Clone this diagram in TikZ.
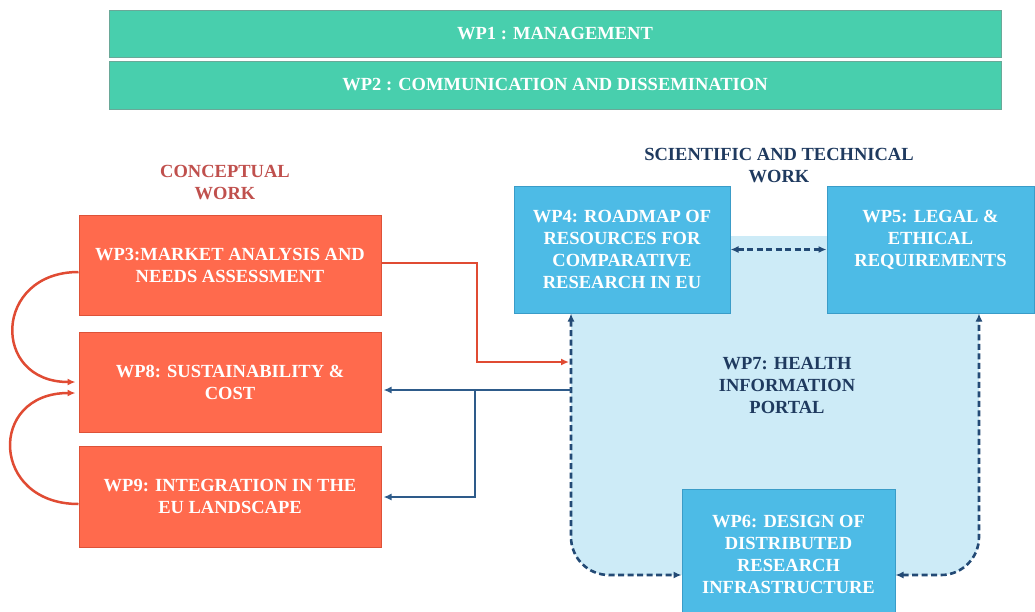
\documentclass[tikz,border=0pt]{standalone}
\usepackage{fontspec}
\setmainfont{Liberation Serif}
\usetikzlibrary{arrows.meta}
\definecolor{teal1}{HTML}{48CFAD}
\definecolor{tealb}{HTML}{6AA898}
\definecolor{redbox}{HTML}{FF6A4D}
\definecolor{redb}{HTML}{DD5238}
\definecolor{bluebox}{HTML}{4DBBE6}
\definecolor{blueb}{HTML}{3A9CC8}
\definecolor{light7}{HTML}{CDEBF7}
\definecolor{navy}{HTML}{1F3A5F}
\definecolor{dashc}{HTML}{234A75}
\definecolor{bluec}{HTML}{2E5B8A}
\definecolor{redc}{HTML}{E04B33}
\definecolor{concept}{HTML}{C0504D}
\begin{document}
\begin{tikzpicture}[x=1pt,y=-1pt,
  txt/.style={font=\fontsize{18.5}{22}\selectfont\bfseries, align=center, inner sep=0pt},
  tealbox/.style={txt, fill=teal1, draw=tealb, line width=1pt, text=white, minimum width=892pt},
  redbx/.style={txt, fill=redbox, draw=redb, line width=1pt, text=white, minimum width=302pt, minimum height=100pt},
  bluebx/.style={txt, fill=bluebox, draw=blueb, line width=1pt, text=white},
  dsh/.style={draw=dashc, line width=2.6pt, dash pattern=on 6pt off 3.5pt, {Latex[length=8pt,width=7pt]}-{Latex[length=8pt,width=7pt]}},
  redarr/.style={draw=redc, line width=2.5pt, -{Latex[length=8pt,width=7pt]}},
  bluearr/.style={draw=bluec, line width=2.5pt, -{Latex[length=8pt,width=7pt]}},
  title/.style={font=\fontsize{18.5}{22}\selectfont\bfseries, align=center, inner sep=0pt}
]
\useasboundingbox (0,0) rectangle (1035,611);
\fill[white] (0,0) rectangle (1035,611);

% WP7 region
\fill[light7] (571,236) -- (979,236) -- (979,537) arc[start angle=0,end angle=90,radius=38] -- (609,575) arc[start angle=90,end angle=180,radius=38] -- cycle;

% top bars
\node[tealbox, minimum height=47pt] (wp1) at (555,33.5) {WP1 : MANAGEMENT};
\node[tealbox, minimum height=48pt] (wp2) at (555,85) {WP2 : COMMUNICATION AND DISSEMINATION};

% titles
\node[title, text=concept] (tconc) at (225,182.5) {CONCEPTUAL\\WORK};
\node[title, text=navy] (tsci) at (779,166) {SCIENTIFIC AND TECHNICAL\\WORK};

% red boxes
\node[redbx] (wp3) at (230,265) {WP3:MARKET ANALYSIS AND\\NEEDS ASSESSMENT};
\node[redbx] (wp8) at (230,382) {WP8: SUSTAINABILITY \&\\COST};
\node[redbx, minimum height=101pt] (wp9) at (230,496.5) {WP9: INTEGRATION IN THE\\EU LANDSCAPE};

% blue boxes
\node[bluebx, minimum width=216pt, minimum height=127pt] (wp4) at (622,249.5) {WP4: ROADMAP OF\\RESOURCES FOR\\COMPARATIVE\\RESEARCH IN EU};
\node[bluebx, minimum width=207pt, minimum height=127pt] (wp5) at (930.5,249.5) {WP5: LEGAL \&\\ETHICAL\\REQUIREMENTS\\\mbox{}};
\node[bluebx, minimum width=213pt, minimum height=130pt] (wp6) at (788.5,554) {WP6: DESIGN OF\\DISTRIBUTED\\RESEARCH\\INFRASTRUCTURE};

% WP7 text
\node[title, text=navy] (wp7) at (787,385) {WP7: HEALTH\\INFORMATION\\PORTAL};

% dashed connectors
\draw[dsh] (wp4.east) -- (wp5.west);
\coordinate (l1) at (571,537);
\coordinate (r1) at (979,537);
\draw[dsh] (wp4.south -| l1) -- (l1) arc[start angle=180,end angle=90,radius=38] -- (wp6.west |- 0,575);
\draw[dsh] (wp6.east |- 0,575) -- (941,575) arc[start angle=90,end angle=0,radius=38] -- (wp5.south -| r1);

% red connector
\coordinate (rc1) at (477,263);
\coordinate (rc2) at (477,362);
\coordinate (rc3) at (569,362);
\draw[redarr] (wp3.east |- rc1) -- (rc1) -- (rc2) -- (rc3);

% blue connectors
\coordinate (b0) at (571,390);
\coordinate (bj) at (475,390);
\coordinate (bk) at (475,497);
\draw[bluearr] (b0) -- ([xshift=2pt]b0 -| wp8.east);
\draw[bluearr] (bj) -- (bk) -- ([xshift=2pt]bk -| wp9.east);

% left curved arrows
\draw[redarr] ([yshift=-7pt]wp3.west) .. controls +(-85,0) and +(-85,0) .. ([xshift=-3pt]wp8.west);
\draw[redarr] ([yshift=-7.5pt]wp9.west) .. controls +(-88,0) and +(-88,0) .. ([xshift=-3pt,yshift=-11pt]wp8.west);
\end{tikzpicture}
\end{document}
